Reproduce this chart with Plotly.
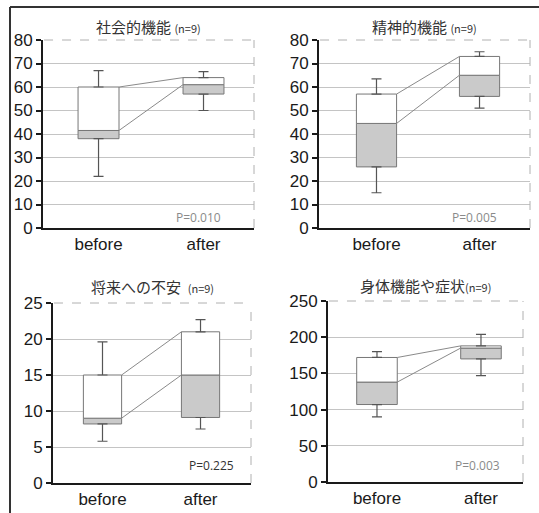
import plotly.graph_objects as go

W, H = 539, 513

categories = ["before", "after"]

titles = ["社会的機能", "精神的機能", "将来への不安", "身体機能や症状"]
title_sep = [" ", " ", "  ", ""]
n_label = "(n=9)"
p_values = ["P=0.010", "P=0.005", "P=0.225", "P=0.003"]
p_colors = ["#8a8a8a", "#8a8a8a", "#333333", "#8a8a8a"]

# five-number summaries per panel: [before, after]
low = [[22, 50], [15, 51], [5.8, 7.5], [90, 147]]
q1 = [[38, 57], [26, 56], [8.2, 9.1], [107, 170]]
median = [[41.5, 61], [44.5, 65], [9.0, 15.0], [138, 185]]
q3 = [[60, 64], [57, 73], [15.0, 21.0], [172, 188]]
high = [[67, 66.5], [63.5, 75], [19.6, 22.7], [180, 204]]

y_max = [80, 80, 25, 250]
y_dtick = [10, 10, 5, 50]

# layout geometry (pixels)
panels_px = [
    dict(x0=43, x1=254, y0=40, y1=228, xr=(-0.529, 1.481), ty=26),
    dict(x0=319, x1=530, y0=40, y1=228, xr=(-0.558, 1.490), ty=26),
    dict(x0=53, x1=251, y0=303, y1=483, xr=(-0.505, 1.515), ty=286),
    dict(x0=328, x1=523, y0=301, y1=482, xr=(-0.471, 1.404), ty=285),
]
p_pos_px = [(198, 217), (474, 217), (211, 465), (477, 465)]

BOX_W = 0.39
FILL = "#cacaca"
EDGE = "#777777"
WHISK = "#555555"
FONT = "Liberation Sans, Arial, sans-serif"
CJK = "Noto Sans CJK JP, sans-serif"

fig = go.Figure()

def px_x(v):
    return v / W

def px_y(v):
    return 1 - v / H

for i, p in enumerate(panels_px):
    ax = "" if i == 0 else str(i + 1)
    xa, ya = "x" + ax, "y" + ax
    # lower box (Q1 -> median), gray
    fig.add_trace(go.Bar(
        x=[0, 1], y=[median[i][k] - q1[i][k] for k in range(2)],
        base=q1[i], width=BOX_W, marker=dict(color=FILL, line=dict(color=EDGE, width=1)),
        xaxis=xa, yaxis=ya, showlegend=False, hoverinfo="skip"))
    # upper box (median -> Q3), white
    fig.add_trace(go.Bar(
        x=[0, 1], y=[q3[i][k] - median[i][k] for k in range(2)],
        base=median[i], width=BOX_W, marker=dict(color="white", line=dict(color=EDGE, width=1)),
        xaxis=xa, yaxis=ya, showlegend=False, hoverinfo="skip"))
    # upper whiskers
    fig.add_trace(go.Scatter(
        x=[0, 1], y=high[i], mode="markers", marker=dict(size=1, color="rgba(0,0,0,0)"),
        error_y=dict(type="data", symmetric=False, array=[0, 0],
                     arrayminus=[high[i][k] - q3[i][k] for k in range(2)],
                     color=WHISK, thickness=1.2, width=5),
        xaxis=xa, yaxis=ya, showlegend=False, hoverinfo="skip"))
    # lower whiskers
    fig.add_trace(go.Scatter(
        x=[0, 1], y=low[i], mode="markers", marker=dict(size=1, color="rgba(0,0,0,0)"),
        error_y=dict(type="data", symmetric=False, arrayminus=[0, 0],
                     array=[q1[i][k] - low[i][k] for k in range(2)],
                     color=WHISK, thickness=1.2, width=5),
        xaxis=xa, yaxis=ya, showlegend=False, hoverinfo="skip"))
    # connecting lines (Q3 and median)
    for series in (q3[i], median[i]):
        fig.add_trace(go.Scatter(
            x=[BOX_W / 2, 1 - BOX_W / 2], y=series, mode="lines",
            line=dict(color="#8a8a8a", width=1),
            xaxis=xa, yaxis=ya, showlegend=False, hoverinfo="skip"))

    xkey = "xaxis" + ax
    ykey = "yaxis" + ax
    fig.update_layout(**{
        xkey: dict(domain=[px_x(p["x0"]), px_x(p["x1"])], range=list(p["xr"]),
                   anchor=ya, tickvals=[0, 1], ticktext=categories,
                   tickfont=dict(family=FONT, size=17, color="#1a1a1a"),
                   showline=True, linecolor="#1a1a1a", linewidth=2, ticks="",
                   showgrid=False, zeroline=False, fixedrange=True, automargin=False),
        ykey: dict(domain=[px_y(p["y1"]), px_y(p["y0"])], range=[0, y_max[i]],
                   anchor=xa, dtick=y_dtick[i], tick0=0,
                   tickfont=dict(family=FONT, size=17, color="#1a1a1a"),
                   showline=True, linecolor="#1a1a1a", linewidth=2,
                   ticks="outside", ticklen=5, tickcolor="#1a1a1a", tickwidth=1.5,
                   showgrid=True, gridcolor="#c4c4c4", gridwidth=1,
                   zeroline=False, fixedrange=True, automargin=False),
    })
    # dashed top and right border of the plot area
    fig.add_shape(type="line", xref=xa + " domain", yref=ya + " domain",
                  x0=0.005, x1=1, y0=1, y1=1, line=dict(color="white", width=2))
    fig.add_shape(type="line", xref=xa + " domain", yref=ya + " domain",
                  x0=0.005, x1=1, y0=1, y1=1, line=dict(color="#b0b0b0", width=1, dash="dash"))
    fig.add_shape(type="line", xref=xa + " domain", yref=ya + " domain",
                  x0=1, x1=1, y0=0, y1=1, line=dict(color="#b0b0b0", width=1, dash="dash"))

    # title
    fig.add_annotation(
        x=(px_x(p["x0"]) + px_x(p["x1"])) / 2, y=px_y(p["ty"]), xref="paper", yref="paper",
        text=titles[i] + title_sep[i] + "<span style='font-size:11px'>" + n_label + "</span>",
        showarrow=False, font=dict(family=CJK, size=15, color="#333"),
        xanchor="center", yanchor="middle")
    # p-value
    px, py = p_pos_px[i]
    fig.add_annotation(
        x=px_x(px), y=px_y(py), xref="paper", yref="paper", text=p_values[i],
        showarrow=False, font=dict(family="Open Sans, sans-serif", size=12, color=p_colors[i]),
        xanchor="center", yanchor="middle")

# outer frame (left and top edges of the figure border)
fig.add_shape(type="line", xref="paper", yref="paper",
              x0=px_x(10), x1=1.01, y0=px_y(7), y1=px_y(7), line=dict(color="#333", width=2))
fig.add_shape(type="line", xref="paper", yref="paper",
              x0=px_x(10), x1=px_x(10), y0=px_y(7), y1=-0.01, line=dict(color="#333", width=2))

fig.update_layout(
    width=W, height=H, margin=dict(l=0, r=0, t=0, b=0, autoexpand=False),
    paper_bgcolor="white", plot_bgcolor="white",
    barmode="overlay", showlegend=False,
)

fig.write_html("out.html", config={"displayModeBar": False},
               post_script="document.body.style.margin='0px';document.body.style.overflow='hidden';")
